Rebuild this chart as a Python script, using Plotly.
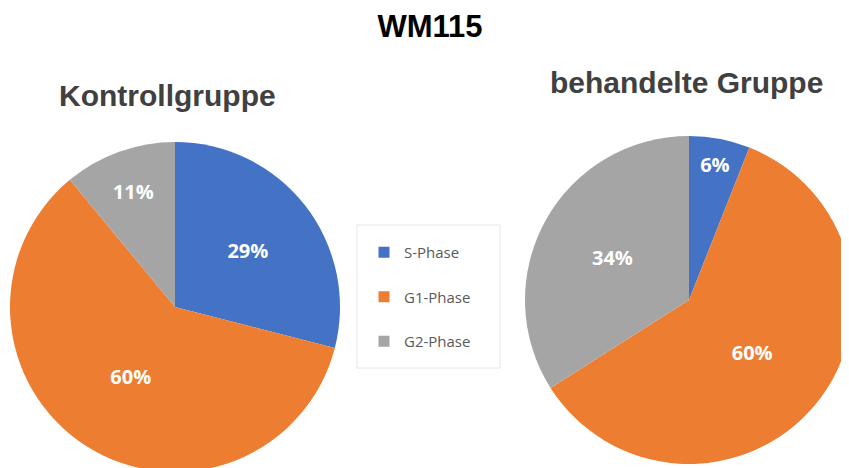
import plotly.graph_objects as go

phases = ["S-Phase", "G1-Phase", "G2-Phase"]
kontroll = [29, 60, 11]
behandelt = [6, 60, 34]
colors = ["#4472C4", "#ED7D31", "#A5A5A5"]

W, H = 849, 468
# the page body adds an 8px offset, so figure px = screen px - 8


def px(x):
    return x / W


def py(y):
    # y measured from the top of the figure
    return 1 - y / H


fig = go.Figure()

# left pie: centre (167, 299), radius 165 in figure px
fig.add_trace(go.Pie(
    labels=phases, values=kontroll, sort=False, direction="clockwise", rotation=0,
    marker=dict(colors=colors, line=dict(width=0)),
    texttemplate="%{value}%", textposition="inside", insidetextorientation="horizontal",
    textfont=dict(family="Open Sans", size=20, color="white", weight="bold"),
    domain=dict(x=[px(2), px(332)], y=[py(464), py(134)]),
    showlegend=False, hoverinfo="label+percent",
))

# right pie: centre (681, 292), radius 164
fig.add_trace(go.Pie(
    labels=phases, values=behandelt, sort=False, direction="clockwise", rotation=0,
    marker=dict(colors=colors, line=dict(width=0)),
    texttemplate="%{value}%", textposition="inside", insidetextorientation="horizontal",
    textfont=dict(family="Open Sans", size=20, color="white", weight="bold"),
    domain=dict(x=[px(517), px(845)], y=[py(456), py(128)]),
    showlegend=False, hoverinfo="label+percent",
))

# legend entries (own groups so the gap between them can be set)
for name, col in zip(phases, colors):
    fig.add_trace(go.Scatter(
        x=[None], y=[None], mode="markers", name=name, legendgroup=name,
        marker=dict(symbol="square", size=11, color=col),
    ))

fig.add_annotation(text="<b>Kontrollgruppe</b>", x=px(159), y=py(87),
                   xanchor="center", yanchor="middle",
                   xref="paper", yref="paper", showarrow=False,
                   font=dict(family="Liberation Sans, Arial", size=30, color="#404040"))
fig.add_annotation(text="<b>behandelte Gruppe</b>", x=px(678), y=py(74),
                   xanchor="center", yanchor="middle",
                   xref="paper", yref="paper", showarrow=False,
                   font=dict(family="Liberation Sans, Arial", size=30, color="#404040"))

# faint frame round the legend
fig.add_shape(type="rect", xref="paper", yref="paper",
              x0=px(349), x1=px(492), y0=py(360), y1=py(217),
              line=dict(color="#e6e6e6", width=1), fillcolor="rgba(0,0,0,0)")

fig.update_layout(
    width=W, height=H,
    margin=dict(l=0, r=0, t=0, b=0),
    paper_bgcolor="white", plot_bgcolor="white",
    title=dict(text="<b>WM115</b>", x=px(422), xanchor="center",
               y=py(18), yanchor="middle", yref="container",
               font=dict(family="Liberation Sans, Arial", size=31, color="black")),
    xaxis=dict(visible=False), yaxis=dict(visible=False),
    legend=dict(x=px(356), y=py(228), xanchor="left", yanchor="top",
                bgcolor="rgba(0,0,0,0)", borderwidth=0,
                tracegroupgap=22, itemsizing="trace",
                font=dict(family="Open Sans", size=15, color="#595959")),
)

fig.write_html("out.html")
